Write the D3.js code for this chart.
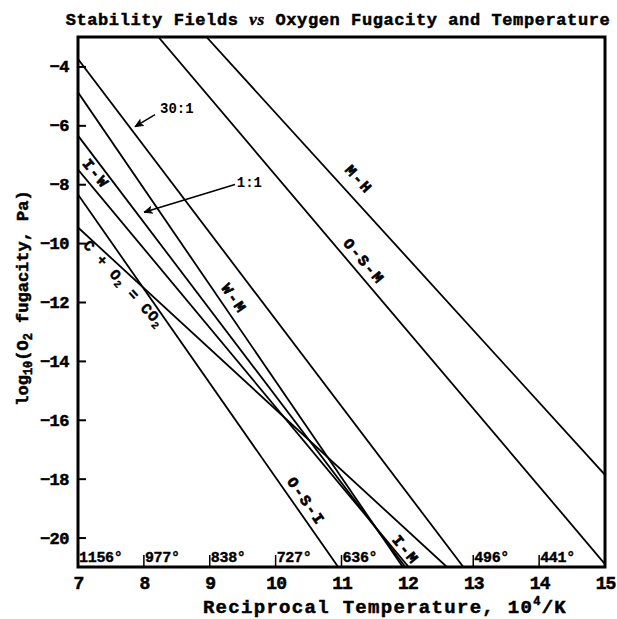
<!DOCTYPE html>
<html><head><meta charset="utf-8">
<script src="https://cdn.jsdelivr.net/npm/d3@7"></script>
<style>
body{margin:0;background:#fff}
text{font-family:"Liberation Mono","DejaVu Sans Mono",monospace;font-weight:bold;fill:#000}
</style>
</head><body>
<svg id="c" width="617" height="619"></svg>
<script>
// ---- data ----
const lineNames  = ["30:1", "W-M", "1:1", "I-W", "O-S-I", "C + O2 = CO2", "O-S-M", "M-H"];
const lineStartX = [7, 7, 7, 7, 7, 7, 8.22, 8.95];
const lineStartY = [-3.75, -4.88, -6.35, -7.5, -8.35, -9.47, -3, -3];
const lineEndX   = [12.85, 11.93, 11.97, 12.02, 10.95, 12.6, 15, 15];
const lineEndY   = [-21, -21, -21, -21, -21, -21, -20.9, -17.87];

const xTicks = [7, 8, 9, 10, 11, 12, 13, 14, 15];
const yTicks = [-20, -18, -16, -14, -12, -10, -8, -6, -4];
const tempTickX = [7, 8, 9, 10, 11, 13, 14];
const tempTickLabels = ["1156°", "977°", "838°", "727°", "636°", "496°", "441°"];

const labelTexts = ["I-W", "W-M", "O-S-M", "M-H", "O-S-I", "I-M"];
const labelLine  = [3, 1, 6, 7, 4, 3];
const labelX     = [7.258, 9.353, 11.326, 11.25, 10.446, 11.96];
const labelY     = [-7.67, -11.91, -10.65, -7.87, -18.79, -20.45];

const ratioLabels = ["30:1", "1:1"];
const ratioLabelX = [8.245, 9.41];
const ratioLabelY = [-5.57, -8.08];
const arrowFromX = [8.169, 9.383];
const arrowFromY = [-5.637, -8.01];
const arrowToX   = [7.865, 8.002];
const arrowToY   = [-6.044, -8.95];

const carbonLabelX = 7.683, carbonLabelY = -11.40;

// ---- drawing ----
const svg = d3.select("#c");
const L = 78, R = 605, T = 37, B = 567;
const x = d3.scaleLinear().domain([7, 15]).range([L, R]);
const y = d3.scaleLinear().domain([-21, -3]).range([B, T]);

svg.append("defs").append("clipPath").attr("id", "clip")
  .append("rect").attr("x", L).attr("y", T).attr("width", R - L).attr("height", B - T);

const gLines = svg.append("g").attr("clip-path", "url(#clip)");
lineNames.forEach((n, i) => {
  gLines.append("line")
    .attr("x1", x(lineStartX[i])).attr("y1", y(lineStartY[i]))
    .attr("x2", x(lineEndX[i])).attr("y2", y(lineEndY[i]))
    .attr("stroke", "#000").attr("stroke-width", 1.8);
});

function lineAngle(i) {
  return Math.atan2(y(lineEndY[i]) - y(lineStartY[i]), x(lineEndX[i]) - x(lineStartX[i])) * 180 / Math.PI;
}

// line labels
labelTexts.forEach((t, i) => {
  const px = x(labelX[i]), py = y(labelY[i]);
  svg.append("text").text(t)
    .attr("transform", `translate(${px},${py}) rotate(${lineAngle(labelLine[i])})`)
    .attr("text-anchor", "middle").attr("dominant-baseline", "central")
    .attr("font-size", 15).attr("letter-spacing", 2)
    .attr("stroke", "#000").attr("stroke-width", 0.7);
});

// C + O2 = CO2 label
{
  const px = x(carbonLabelX), py = y(carbonLabelY);
  const t = svg.append("text")
    .attr("transform", `translate(${px},${py}) rotate(${lineAngle(5) + 5})`)
    .attr("text-anchor", "middle").attr("dominant-baseline", "central")
    .attr("font-size", 15).attr("letter-spacing", 0.8).attr("stroke", "#000").attr("stroke-width", 0.4);
  t.append("tspan").text("C + O");
  t.append("tspan").text("2").attr("font-size", 10).attr("dy", 4);
  t.append("tspan").text(" = CO").attr("dy", -4);
  t.append("tspan").text("2").attr("font-size", 10).attr("dy", 4);
}

// ratio labels & arrows
ratioLabels.forEach((t, i) => {
  svg.append("text").text(t)
    .attr("x", x(ratioLabelX[i])).attr("y", y(ratioLabelY[i]))
    .attr("font-family", "Liberation Sans, Arial, sans-serif")
    .attr("font-size", 14);
  const x1 = x(arrowFromX[i]), y1 = y(arrowFromY[i]), x2 = x(arrowToX[i]), y2 = y(arrowToY[i]);
  svg.append("line").attr("x1", x1).attr("y1", y1).attr("x2", x2).attr("y2", y2)
    .attr("stroke", "#000").attr("stroke-width", 1.6);
  const a = Math.atan2(y2 - y1, x2 - x1) * 180 / Math.PI;
  svg.append("path").attr("d", "M0,0 L-8,-3.5 L-6,0 L-8,3.5 Z")
    .attr("transform", `translate(${x2},${y2}) rotate(${a})`)
    .attr("fill", "#000").attr("stroke", "#000").attr("stroke-width", 0.8);
});

// temperature ticks along bottom
tempTickX.forEach((v, i) => {
  svg.append("line").attr("x1", x(v)).attr("x2", x(v)).attr("y1", B).attr("y2", B - 12)
    .attr("stroke", "#000").attr("stroke-width", 1.5);
  svg.append("text").text(tempTickLabels[i])
    .attr("x", x(v) + 1).attr("y", B - 5)
    .attr("font-size", 15).attr("stroke", "#000").attr("stroke-width", 0.4)
    .attr("letter-spacing", -0.3);
});

// y ticks (inward)
const yAxis = d3.axisLeft(y).tickValues(yTicks).tickSize(-8).tickPadding(9)
  .tickFormat(d => d3.format("")(d).replace("-", "−"));
const gy = svg.append("g").attr("transform", `translate(${L},0)`).call(yAxis);
gy.select(".domain").remove();
gy.selectAll(".tick line").attr("stroke", "#000").attr("stroke-width", 2);
gy.selectAll(".tick text").attr("font-size", 17).attr("font-family", "Liberation Mono, monospace")
  .attr("font-weight", "bold").attr("fill", "#000").attr("stroke", "#000").attr("stroke-width", 0.5)
  .attr("letter-spacing", -0.5);

// x tick labels
const xAxis = d3.axisBottom(x).tickValues(xTicks).tickSize(0).tickPadding(9).tickFormat(d3.format("d"));
const gx = svg.append("g").attr("transform", `translate(0,${B})`).call(xAxis);
gx.select(".domain").remove();
gx.selectAll(".tick text").attr("font-size", 18).attr("font-family", "Liberation Mono, monospace")
  .attr("font-weight", "bold").attr("fill", "#000").attr("stroke", "#000").attr("stroke-width", 0.5)
  .attr("letter-spacing", -1);

// frame
svg.append("rect").attr("x", L).attr("y", T).attr("width", R - L).attr("height", B - T)
  .attr("fill", "none").attr("stroke", "#000").attr("stroke-width", 3);

// title
{
  const t = svg.append("text").attr("x", 338).attr("y", 25)
    .attr("text-anchor", "middle").attr("font-size", 17).attr("letter-spacing", 0.6)
    .attr("stroke", "#000").attr("stroke-width", 0.5);
  t.append("tspan").text("Stability Fields ");
  t.append("tspan").text("vs").attr("font-style", "italic").attr("font-family", "Liberation Serif, serif");
  t.append("tspan").text(" Oxygen Fugacity and Temperature");
}

// x label
{
  const t = svg.append("text").attr("x", 385).attr("y", 613)
    .attr("text-anchor", "middle").attr("font-size", 19).attr("letter-spacing", 1.3)
    .attr("stroke", "#000").attr("stroke-width", 0.5);
  t.append("tspan").text("Reciprocal Temperature, 10");
  t.append("tspan").text("4").attr("font-size", 12).attr("dy", -8);
  t.append("tspan").text("/K").attr("dy", 8);
}

// y label
{
  const t = svg.append("text").attr("transform", `translate(28,${(T + B) / 2 - 4}) rotate(-90)`)
    .attr("text-anchor", "middle").attr("font-size", 17).attr("stroke", "#000").attr("stroke-width", 0.5);
  t.append("tspan").text("log");
  t.append("tspan").text("10").attr("font-size", 12).attr("dy", 4);
  t.append("tspan").text("(O").attr("dy", -4);
  t.append("tspan").text("2").attr("font-size", 12).attr("dy", 4);
  t.append("tspan").text(" fugacity, Pa)").attr("dy", -4);
}
</script>
</body></html>
